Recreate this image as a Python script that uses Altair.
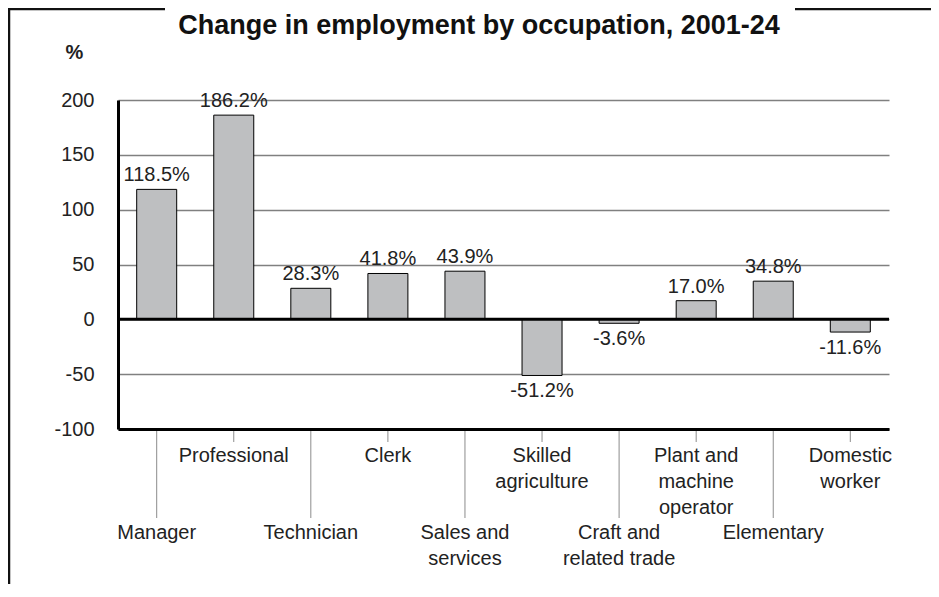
import altair as alt
import pandas as pd

categories = ["Manager", "Professional", "Technician", "Clerk", "Sales and services",
              "Skilled agriculture", "Craft and related trade", "Plant and machine operator",
              "Elementary", "Domestic worker"]
label_lines = ["Manager", "Professional", "Technician", "Clerk", "Sales and\nservices",
               "Skilled\nagriculture", "Craft and\nrelated trade", "Plant and\nmachine\noperator",
               "Elementary", "Domestic\nworker"]
changes = [118.5, 186.2, 28.3, 41.8, 43.9, -51.2, -3.6, 17.0, 34.8, -11.6]
y_ticks = [-100, -50, 0, 50, 100, 150, 200]
title_text = "Change in employment by occupation, 2001-24"

FONT = "Liberation Sans"
TXT = "#222222"

df = pd.DataFrame({
    "cat": categories,
    "label": label_lines,
    "value": changes,
    "text": [f"{v:.1f}%" for v in changes],
    "row": [i % 2 for i in range(len(categories))],
})

x_enc = alt.X("cat:N", sort=categories,
              scale=alt.Scale(paddingInner=0.481, paddingOuter=0.2425),
              axis=alt.Axis(labels=False, ticks=False, title=None, grid=False,
                            domainWidth=3, domainColor="black"))

base = alt.Chart(df)

bars = base.mark_bar(color="#bebfc1", stroke="black", strokeWidth=1).encode(
    x=x_enc,
    y=alt.Y("value:Q",
            scale=alt.Scale(domain=[-100, 200], nice=False, zero=False),
            axis=alt.Axis(values=y_ticks, title="%", titleAngle=0, titleX=-44, titleY=-48,
                          titleAlign="center", titleBaseline="middle", titleFontSize=20,
                          titleFont=FONT, titleFontWeight="bold", titleColor=TXT,
                          labelExpr="datum.value + ''",
                          labelFontSize=20, labelFont=FONT, labelColor=TXT, labelPadding=24,
                          ticks=False, domainWidth=3, domainColor="black",
                          grid=True, gridColor="#808080", gridWidth=1.3)),
    y2=alt.datum(0),
)

pos_labels = base.transform_filter("datum.value >= 0").mark_text(
    baseline="bottom", dy=-4, fontSize=20, font=FONT, color=TXT
).encode(x=alt.X("cat:N", sort=categories), y="value:Q", text="text:N")

neg_labels = base.transform_filter("datum.value < 0").mark_text(
    baseline="top", dy=6, fontSize=20, font=FONT, color=TXT
).encode(x=alt.X("cat:N", sort=categories), y="value:Q", text="text:N")

zero_df = pd.DataFrame({"z": [0]})
zero_line = alt.Chart(zero_df).mark_rule(color="black", strokeWidth=3).encode(y="z:Q")

long_ticks = base.transform_filter("datum.row == 0").mark_rule(color="#8c8c8c", strokeWidth=1).encode(
    x=alt.X("cat:N", sort=categories), y=alt.value(331), y2=alt.value(418))
short_ticks = base.transform_filter("datum.row == 1").mark_rule(color="#8c8c8c", strokeWidth=1).encode(
    x=alt.X("cat:N", sort=categories), y=alt.value(331), y2=alt.value(342))

bottom_labels = base.transform_filter("datum.row == 0").mark_text(
    baseline="alphabetic", align="center", fontSize=20, font=FONT, color=TXT,
    lineBreak="\n", lineHeight=26
).encode(x=alt.X("cat:N", sort=categories), y=alt.value(439), text="label:N")

top_labels = base.transform_filter("datum.row == 1").mark_text(
    baseline="alphabetic", align="center", fontSize=20, font=FONT, color=TXT,
    lineBreak="\n", lineHeight=26
).encode(x=alt.X("cat:N", sort=categories), y=alt.value(362), text="label:N")

frame_src = alt.Chart(pd.DataFrame({"a": [0]}))
frame_left = frame_src.mark_rule(color="#111111", strokeWidth=2.5).encode(
    x=alt.value(-109), y=alt.value(-92), y2=alt.value(490))
frame_top_l = frame_src.mark_rule(color="#111111", strokeWidth=2.5).encode(
    x=alt.value(-110), x2=alt.value(47), y=alt.value(-91))
frame_top_r = frame_src.mark_rule(color="#111111", strokeWidth=2.5).encode(
    x=alt.value(677), x2=alt.value(815), y=alt.value(-91))
title = frame_src.mark_text(
    text=title_text, fontSize=27, fontWeight="bold", font=FONT, color="#111111",
    align="center", baseline="alphabetic"
).encode(x=alt.value(361), y=alt.value(-66))

chart = alt.layer(
    bars, zero_line, pos_labels, neg_labels, long_ticks, short_ticks,
    bottom_labels, top_labels, frame_left, frame_top_l, frame_top_r, title
).properties(
    width=771, height=329,
    autosize=alt.AutoSizeParams(type="none"),
    padding={"left": 110, "top": 92, "right": 42, "bottom": 155},
).configure_view(stroke=None)

chart.save("out.html", embed_options={"renderer": "svg", "actions": False})
